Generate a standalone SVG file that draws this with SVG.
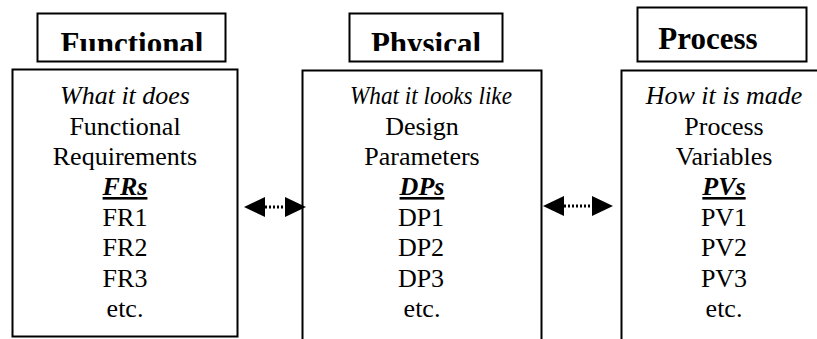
<svg xmlns="http://www.w3.org/2000/svg" width="817" height="339" viewBox="0 0 817 339">
<style>
.box{fill:#fff;stroke:#000;stroke-width:2}
.t{font-size:26px;text-anchor:middle;fill:#000}
.i{font-style:italic}
.bi{font-style:italic;font-weight:bold;text-decoration:underline}
.h{font-size:31px;font-weight:bold;text-anchor:middle;fill:#000}
.c{stroke:#000;stroke-width:3;stroke-dasharray:2 2;fill:none}
</style>
<defs>
<marker id="ah" markerUnits="userSpaceOnUse" markerWidth="22" markerHeight="20" refX="0" refY="10" orient="auto-start-reverse" viewBox="0 0 22 20">
<path d="M0,0 L21,10 L0,20 Z" fill="#000"/>
</marker>
<clipPath id="clipF"><rect x="37" y="13" width="190" height="38"/></clipPath>
<clipPath id="clipP"><rect x="349" y="13" width="155" height="38"/></clipPath>
</defs>
<g font-family="'Liberation Serif', 'Times New Roman', serif">
<g id="title-functional">
<rect class="box" x="37.5" y="13.5" width="188" height="48"/>
<text class="h" x="132" y="54" clip-path="url(#clipF)">Functional</text>
</g>
<g id="title-physical">
<rect class="box" x="349.5" y="13.5" width="153" height="48"/>
<text class="h" x="426" y="54" clip-path="url(#clipP)">Physical</text>
</g>
<g id="title-process">
<rect class="box" x="637.5" y="7.5" width="169" height="54"/>
<text class="h" x="708" y="49">Process</text>
</g>
<g id="node-functional">
<rect class="box" x="12.5" y="69.5" width="225" height="267"/>
<text class="t i" x="125" y="104">What it does</text>
<text class="t" x="125" y="134.5">Functional</text>
<text class="t" x="125" y="165">Requirements</text>
<text class="t bi" x="125" y="195">FRs</text>
<text class="t" x="125" y="225.5">FR1</text>
<text class="t" x="125" y="256">FR2</text>
<text class="t" x="125" y="286.5">FR3</text>
<text class="t" x="125" y="317">etc.</text>
</g>
<g id="node-physical">
<rect class="box" x="302.5" y="70.5" width="239" height="290"/>
<text class="t i" x="431" y="104" textLength="162" lengthAdjust="spacingAndGlyphs">What it looks like</text>
<text class="t" x="422" y="134.5">Design</text>
<text class="t" x="422" y="165">Parameters</text>
<text class="t bi" x="422" y="195">DPs</text>
<text class="t" x="421" y="225.5">DP1</text>
<text class="t" x="421" y="256">DP2</text>
<text class="t" x="421" y="286.5">DP3</text>
<text class="t" x="422" y="317">etc.</text>
</g>
<g id="node-process">
<rect class="box" x="621.5" y="70.5" width="220" height="290"/>
<text class="t i" x="724" y="104">How it is made</text>
<text class="t" x="724" y="134.5">Process</text>
<text class="t" x="724" y="165">Variables</text>
<text class="t bi" x="724" y="195">PVs</text>
<text class="t" x="724" y="225.5">PV1</text>
<text class="t" x="724" y="256">PV2</text>
<text class="t" x="724" y="286.5">PV3</text>
<text class="t" x="724" y="317">etc.</text>
</g>
</g>
<g id="connectors">
<path class="c" d="M265,207 L285,207" marker-start="url(#ah)" marker-end="url(#ah)"/>
<path class="c" d="M564,206 L592,206" marker-start="url(#ah)" marker-end="url(#ah)"/>
</g>
</svg>
